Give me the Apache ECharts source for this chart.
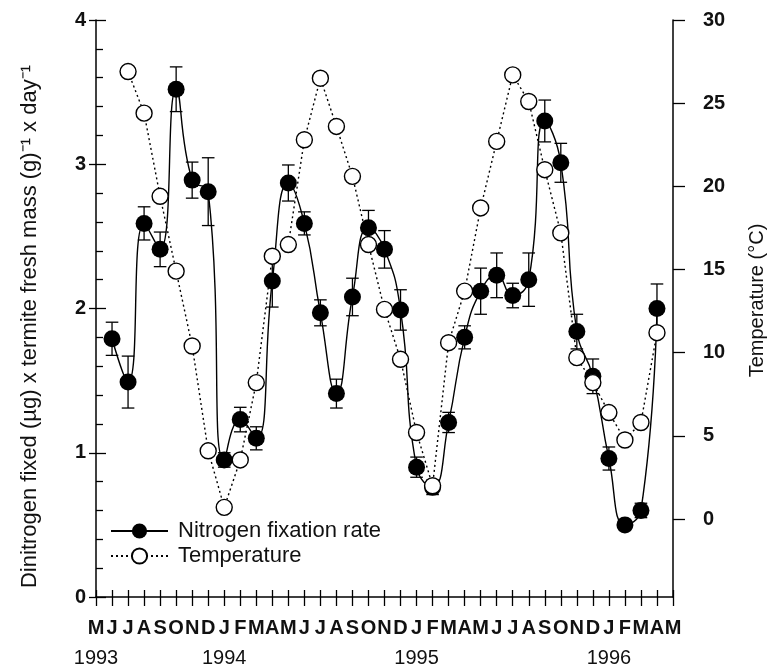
<!DOCTYPE html>
<html>
<head>
<meta charset="utf-8">
<script src="https://cdn.jsdelivr.net/npm/echarts@6/dist/echarts.min.js"></script>
<style>
html,body{margin:0;padding:0;background:#fff;}
#chart{width:774px;height:667px;}
</style>
</head>
<body>
<div id="chart"></div>
<script>
// Month tick labels (May 1993 .. May 1996), one per month index 0..36
const monthLabels = ['M','J','J','A','S','O','N','D',
  'J','F','M','A','M','J','J','A','S','O','N','D',
  'J','F','M','A','M','J','J','A','S','O','N','D',
  'J','F','M','A','M'];
const yearIndex = [0, 8, 20, 32];
const yearLabels = ['1993', '1994', '1995', '1996'];

// Nitrogen fixation rate (month index, mean, error)
const nIndex = [1,2,3,4,5,6,7,8,9,10,11,12,13,14,15,16,17,18,19,20,21,22,23,24,25,26,27,28,29,30,31,32,33,34,35];
const nMean  = [1.79,1.49,2.59,2.41,3.52,2.89,2.81,0.95,1.23,1.10,2.19,2.87,2.59,1.97,1.41,2.08,2.56,2.41,1.99,0.90,0.76,1.21,1.80,2.12,2.23,2.09,2.20,3.30,3.01,1.84,1.53,0.96,0.50,0.60,2.00];
const nErr   = [0.115,0.18,0.115,0.12,0.155,0.125,0.235,0.05,0.085,0.08,0.18,0.125,0.08,0.09,0.10,0.13,0.12,0.13,0.14,0.07,0.05,0.07,0.08,0.16,0.155,0.085,0.185,0.145,0.135,0.12,0.12,0.08,0.03,0.05,0.17];

// Temperature (month index, °C)
const tIndex = [2,3,4,5,6,7,8,9,10,11,12,13,14,15,16,17,18,19,20,21,22,23,24,25,26,27,28,29,30,31,32,33,34,35];
const tValue = [26.9,24.4,19.4,14.9,10.4,4.1,0.7,3.55,8.2,15.8,16.5,22.8,26.5,23.6,20.6,16.5,12.6,9.6,5.2,2.0,10.6,13.7,18.7,22.7,26.7,25.1,21.0,17.2,9.7,8.2,6.4,4.75,5.8,11.2];

// Axis ticks
const leftTicks = [0,1,2,3,4];
const rightTicks = [0,5,10,15,20,25,30];

const FONT = 'Liberation Sans, Arial, Helvetica, sans-serif';

const nData = nIndex.map((x, i) => [x, nMean[i]]);
const errData = nIndex.map((x, i) => [x, nMean[i] - nErr[i], nMean[i] + nErr[i]]);
const tData = tIndex.map((x, i) => [x, tValue[i]]);

const chart = echarts.init(document.getElementById('chart'), null, {renderer: 'canvas'});

const axisLineStyle = {color: '#000', width: 1.5};

const option = {
  backgroundColor: '#fff',
  animation: false,
  grid: {left: 96, right: 101, top: 20, bottom: 70, containLabel: false, outerBoundsMode: 'none'},
  legend: {
    orient: 'vertical',
    left: 105,
    top: 515,
    itemWidth: 57,
    itemHeight: 19,
    itemGap: 3,
    textStyle: {fontFamily: FONT, fontSize: 22, color: '#111', padding: [0,0,0,5]},
    data: ['Nitrogen fixation rate', 'Temperature']
  },
  xAxis: [
    {
      type: 'value', min: 0, max: 36, interval: 1, position: 'bottom',
      axisLine: {show: true, lineStyle: axisLineStyle},
      axisTick: {show: true, inside: false, length: 9, lineStyle: {color: '#000', width: 1.3}},
      splitLine: {show: false},
      axisLabel: {
        show: true, margin: 21, showMinLabel: true, showMaxLabel: true,
        fontFamily: FONT, fontSize: 20, fontWeight: 'bold', color: '#111',
        formatter: function (v) { return monthLabels[Math.round(v)] || ''; }
      }
    },
    {
      type: 'value', min: 0, max: 36, interval: 1, position: 'bottom',
      axisLine: {show: false},
      axisTick: {show: true, inside: true, length: 7, lineStyle: {color: '#000', width: 1.3}},
      splitLine: {show: false},
      axisLabel: {
        show: true, margin: 51, customValues: yearIndex,
        fontFamily: FONT, fontSize: 20, color: '#111',
        formatter: function (v) {
          const yi = yearIndex.indexOf(Math.round(v));
          return yi >= 0 ? yearLabels[yi] : '';
        }
      }
    }
  ],
  yAxis: [
    {
      type: 'value', min: 0, max: 4, interval: 1, position: 'left',
      name: 'Dinitrogen fixed (\u00B5g) x termite fresh mass (g)\u207B\u00B9 x day\u207B\u00B9',
      nameLocation: 'middle', nameRotate: 90, nameGap: 55,
      nameTextStyle: {fontFamily: FONT, fontSize: 22, color: '#111', padding: [0, 36, 0, 0]},
      axisLine: {show: true, lineStyle: axisLineStyle},
      axisTick: {show: true, inside: false, length: 7, lineStyle: {color: '#000', width: 1.3}},
      splitLine: {show: false},
      axisLabel: {
        show: true, margin: 10, fontFamily: FONT, fontSize: 20, fontWeight: 'bold', color: '#111',
        customValues: leftTicks
      }
    },
    {
      type: 'value', min: 0, max: 4, interval: 1, position: 'left',
      axisLine: {show: false},
      axisTick: {show: true, inside: true, length: 10, lineStyle: {color: '#000', width: 1.3}},
      minorTick: {show: true, splitNumber: 5, length: 7, lineStyle: {color: '#000', width: 1.3}},
      splitLine: {show: false},
      axisLabel: {show: false}
    },
    {
      type: 'value', min: -4.69, max: 30, position: 'right',
      name: 'Temperature (\u00B0C)',
      nameLocation: 'middle', nameRotate: 90, nameGap: 74,
      nameTextStyle: {fontFamily: FONT, fontSize: 20, color: '#111', padding: [0, 0, 0, 16]},
      axisLine: {show: true, lineStyle: axisLineStyle},
      axisTick: {show: true, inside: false, length: 12, customValues: rightTicks, lineStyle: {color: '#000', width: 1.3}},
      splitLine: {show: false},
      axisLabel: {
        show: true, margin: 30, fontFamily: FONT, fontSize: 20, fontWeight: 'bold', color: '#111',
        customValues: rightTicks
      }
    }
  ],
  series: [
    {
      type: 'custom',
      name: 'errbars',
      xAxisIndex: 0, yAxisIndex: 0,
      z: 2,
      silent: true,
      renderItem: function (params, api) {
        const x = api.value(0);
        const lo = api.coord([x, api.value(1)]);
        const hi = api.coord([x, api.value(2)]);
        const w = 6.3;
        const st = {stroke: '#000', lineWidth: 1.3};
        return {
          type: 'group',
          children: [
            {type: 'line', shape: {x1: hi[0], y1: hi[1], x2: lo[0], y2: lo[1]}, style: st},
            {type: 'line', shape: {x1: hi[0] - w, y1: hi[1], x2: hi[0] + w, y2: hi[1]}, style: st},
            {type: 'line', shape: {x1: lo[0] - w, y1: lo[1], x2: lo[0] + w, y2: lo[1]}, style: st}
          ]
        };
      },
      encode: {x: 0, y: [1, 2]},
      data: errData
    },
    {
      type: 'line',
      name: 'Nitrogen fixation rate',
      xAxisIndex: 0, yAxisIndex: 0,
      z: 3,
      smooth: 0.5,
      symbol: 'circle',
      symbolSize: 17,
      itemStyle: {color: '#000', borderColor: '#000', borderWidth: 0},
      lineStyle: {color: '#000', width: 1.4, type: 'solid'},
      data: nData
    },
    {
      type: 'line',
      name: 'Temperature',
      xAxisIndex: 0, yAxisIndex: 2,
      z: 4,
      smooth: false,
      symbol: 'circle',
      symbolSize: 16,
      itemStyle: {color: '#fff', borderColor: '#000', borderWidth: 1.4},
      lineStyle: {color: '#000', width: 1.4, type: [2, 3]},
      data: tData
    }
  ]
};
chart.setOption(option);
</script>
</body>
</html>
